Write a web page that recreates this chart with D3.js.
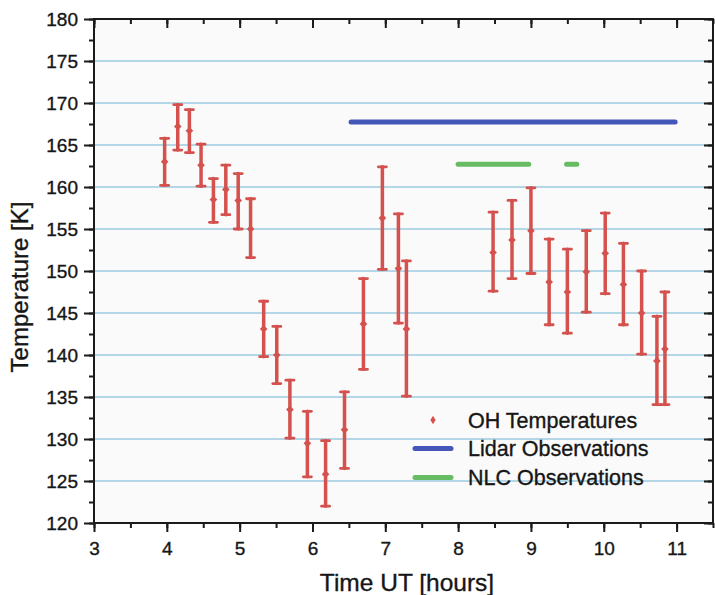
<!DOCTYPE html>
<html>
<head>
<meta charset="utf-8">
<script src="https://cdn.jsdelivr.net/npm/d3@7"></script>
<style>
  body { margin: 0; background: #ffffff; }
  svg text { font-family: "Liberation Sans", Arial, sans-serif; fill: #161616; stroke: #161616; stroke-width: 0.35px; }
</style>
</head>
<body>
<div id="chart"></div>
<script>
// OH temperatures: time (UT hours), temperature and error bar ends (K)
const ohTime = [3.97, 4.15, 4.31, 4.47, 4.64, 4.81, 4.98, 5.15, 5.33, 5.51, 5.69, 5.93, 6.18, 6.44, 6.70,
    6.96, 7.18, 7.29, 8.48, 8.74, 9.00, 9.25, 9.50, 9.76, 10.02, 10.27, 10.52, 10.73, 10.84];
const ohTemp = [163.0, 167.2, 166.7, 162.6, 158.5, 159.7, 158.4, 155.0, 143.1, 140.0, 133.5, 129.5, 125.8, 131.1, 143.7,
    156.3, 150.3, 143.1, 152.2, 153.7, 154.8, 148.7, 147.5, 149.9, 152.1, 148.4, 145.0, 139.3, 140.7];
const ohLow = [160.2, 164.4, 164.1, 160.1, 155.8, 156.7, 155.0, 151.6, 139.8, 136.6, 130.1, 125.5, 122.0, 126.5, 138.3,
    150.2, 143.8, 135.1, 147.6, 149.1, 149.7, 143.6, 142.6, 145.1, 147.3, 143.6, 140.1, 134.1, 134.1];
const ohHigh = [165.8, 169.8, 169.2, 165.1, 161.0, 162.6, 161.6, 158.6, 146.4, 143.4, 137.0, 133.3, 129.8, 135.6, 149.1,
    162.4, 156.8, 151.2, 157.0, 158.4, 159.9, 153.8, 152.6, 154.8, 156.9, 153.3, 150.0, 144.6, 147.5];

// observation periods: [start, end] in UT hours, drawn at a fixed temperature level
const lidarPeriods = [[6.53, 10.98]];
const lidarLevel = 167.75;
const nlcPeriods = [[8.0, 8.97], [9.49, 9.63]];
const nlcLevel = 162.7;

const xTicks = [3, 4, 5, 6, 7, 8, 9, 10, 11];
const yTicks = [120, 125, 130, 135, 140, 145, 150, 155, 160, 165, 170, 175, 180];
const legendLabels = ['OH Temperatures', 'Lidar Observations', 'NLC Observations'];

const W = 715, H = 595;
const plotLeft = 94, plotRight = 713, plotTop = 19, plotBottom = 523;

const x = d3.scaleLinear().domain([3, 11.5]).range([plotLeft, plotRight]);
const y = d3.scaleLinear().domain([120, 180]).range([plotBottom, plotTop]);

const red = '#d4514d', blue = '#4457b8', green = '#66bb63', grid = '#9ccbe0';

const svg = d3.select('#chart').append('svg')
    .attr('width', W)
    .attr('height', H);

svg.append('rect')
    .attr('x', plotLeft).attr('y', plotTop)
    .attr('width', plotRight - plotLeft).attr('height', plotBottom - plotTop)
    .attr('fill', '#fafafa');

// horizontal grid lines
svg.append('g')
    .selectAll('line')
    .data(yTicks.slice(1, -1))
    .enter()
    .append('line')
    .attr('x1', plotLeft).attr('x2', plotRight)
    .attr('y1', d => y(d)).attr('y2', d => y(d))
    .attr('stroke', grid)
    .attr('stroke-width', 1.5);

// observation bars
svg.append('g')
    .selectAll('line')
    .data(lidarPeriods)
    .enter()
    .append('line')
    .attr('x1', d => x(d[0])).attr('x2', d => x(d[1]))
    .attr('y1', y(lidarLevel)).attr('y2', y(lidarLevel))
    .attr('stroke', blue)
    .attr('stroke-width', 5)
    .attr('stroke-linecap', 'round');

svg.append('g')
    .selectAll('line')
    .data(nlcPeriods)
    .enter()
    .append('line')
    .attr('x1', d => x(d[0])).attr('x2', d => x(d[1]))
    .attr('y1', y(nlcLevel)).attr('y2', y(nlcLevel))
    .attr('stroke', green)
    .attr('stroke-width', 5)
    .attr('stroke-linecap', 'round');

// error bars
const bars = svg.append('g')
    .selectAll('g')
    .data(ohTime.map((t, i) => ({ t: t, v: ohTemp[i], lo: ohLow[i], hi: ohHigh[i] })))
    .enter()
    .append('g')
    .attr('stroke', red)
    .attr('stroke-linecap', 'round');

bars.append('line')
    .attr('x1', d => x(d.t)).attr('x2', d => x(d.t))
    .attr('y1', d => y(d.lo)).attr('y2', d => y(d.hi))
    .attr('stroke-width', 3.5);

bars.append('line')
    .attr('x1', d => x(d.t) - 4).attr('x2', d => x(d.t) + 4)
    .attr('y1', d => y(d.lo)).attr('y2', d => y(d.lo))
    .attr('stroke-width', 2.8);

bars.append('line')
    .attr('x1', d => x(d.t) - 4).attr('x2', d => x(d.t) + 4)
    .attr('y1', d => y(d.hi)).attr('y2', d => y(d.hi))
    .attr('stroke-width', 2.8);

bars.append('path')
    .attr('d', d3.symbol().type(d3.symbolDiamond).size(26))
    .attr('transform', d => `translate(${x(d.t)},${y(d.v)}) scale(1.4,0.8)`)
    .attr('fill', red)
    .attr('stroke', 'none');

// axes
const xMinor = d3.range(3, 11.51, 0.5);
const yMinor = d3.range(120, 180.1, 2.5);

svg.append('g')
    .attr('transform', `translate(0,${plotBottom})`)
    .call(d3.axisBottom(x).tickValues(xMinor).tickSize(5).tickFormat(''))
    .call(g => g.select('.domain').remove());
svg.append('g')
    .attr('transform', `translate(0,${plotBottom})`)
    .call(d3.axisBottom(x).tickValues(xTicks).tickSize(9).tickPadding(10).tickFormat(d3.format('d')))
    .call(g => g.select('.domain').remove())
    .selectAll('text')
    .style('font-size', '19px');

svg.append('g')
    .attr('transform', `translate(0,${plotTop})`)
    .call(d3.axisBottom(x).tickValues(xMinor).tickSize(5).tickFormat(''))
    .call(g => g.select('.domain').remove());
svg.append('g')
    .attr('transform', `translate(0,${plotTop})`)
    .call(d3.axisBottom(x).tickValues(xTicks).tickSize(9).tickFormat(''))
    .call(g => g.select('.domain').remove());

svg.append('g')
    .attr('transform', `translate(${plotLeft},0)`)
    .call(d3.axisLeft(y).tickValues(yMinor).tickSize(5).tickFormat(''))
    .call(g => g.select('.domain').remove());
svg.append('g')
    .attr('transform', `translate(${plotLeft},0)`)
    .call(d3.axisLeft(y).tickValues(yTicks).tickSize(10).tickPadding(6).tickFormat(d3.format('d')))
    .call(g => g.select('.domain').remove())
    .selectAll('text')
    .style('font-size', '19px');

svg.append('g')
    .attr('transform', `translate(${plotRight},0)`)
    .call(d3.axisLeft(y).tickValues(yMinor).tickSize(5).tickFormat(''))
    .call(g => g.select('.domain').remove());
svg.append('g')
    .attr('transform', `translate(${plotRight},0)`)
    .call(d3.axisLeft(y).tickValues(yTicks).tickSize(9).tickFormat(''))
    .call(g => g.select('.domain').remove());

svg.selectAll('.tick line').attr('stroke', '#1a1a1a').attr('stroke-width', 2);

svg.append('rect')
    .attr('x', plotLeft).attr('y', plotTop)
    .attr('width', plotRight - plotLeft).attr('height', plotBottom - plotTop)
    .attr('fill', 'none')
    .attr('stroke', '#1a1a1a')
    .attr('stroke-width', 2);

// axis titles
svg.append('text')
    .attr('x', 407).attr('y', 591)
    .attr('text-anchor', 'middle')
    .style('font-size', '24.5px')
    .text('Time UT [hours]');

svg.append('text')
    .attr('transform', 'translate(28,287) rotate(-90)')
    .attr('text-anchor', 'middle')
    .style('font-size', '24px')
    .text('Temperature [K]');

// legend
const legend = svg.append('g');
const rowY = [420, 448.5, 477.5];

legend.append('path')
    .attr('d', d3.symbol().type(d3.symbolDiamond).size(20))
    .attr('transform', `translate(433,${rowY[0]}) scale(1.1,1)`)
    .attr('fill', red);
legend.append('line')
    .attr('x1', 415).attr('x2', 451)
    .attr('y1', rowY[1]).attr('y2', rowY[1])
    .attr('stroke', blue).attr('stroke-width', 5).attr('stroke-linecap', 'round');
legend.append('line')
    .attr('x1', 415).attr('x2', 451)
    .attr('y1', rowY[2]).attr('y2', rowY[2])
    .attr('stroke', green).attr('stroke-width', 5).attr('stroke-linecap', 'round');

legend.selectAll('text')
    .data(legendLabels)
    .enter()
    .append('text')
    .attr('x', 468)
    .attr('y', (d, i) => rowY[i] + 7.5)
    .style('font-size', '21.5px')
    .text(d => d);
</script>
</body>
</html>
